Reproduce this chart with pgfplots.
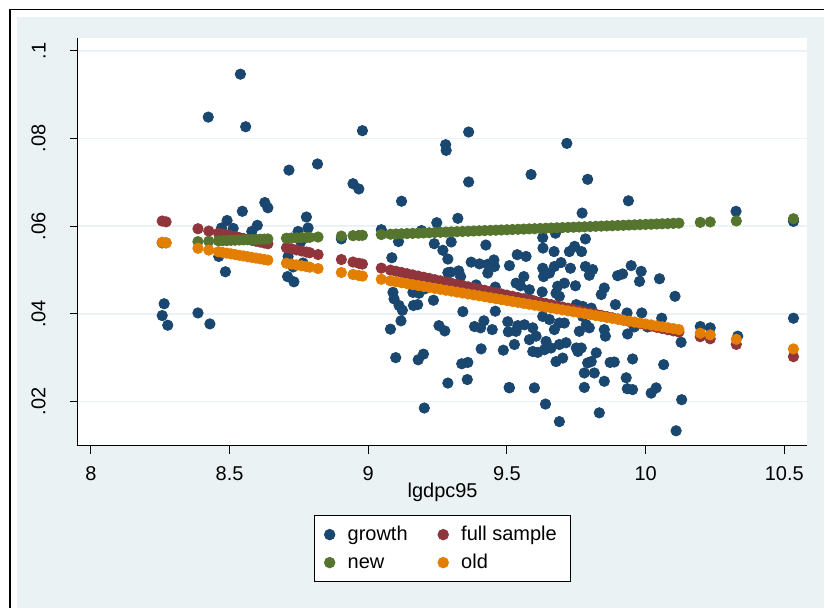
\documentclass[border=0pt]{standalone}
\usepackage{fontspec}
\setmainfont{Liberation Sans}
\usepackage{pgfplots}
\pgfplotsset{compat=1.18}
\usepackage{pgfplotstable}
\definecolor{sbg}{RGB}{234,242,243}
\definecolor{snavy}{RGB}{26,71,111}
\definecolor{smaroon}{RGB}{144,53,59}
\definecolor{sgreen}{RGB}{85,117,47}
\definecolor{sorange}{RGB}{227,126,0}

\pgfplotstableread{
x y
8.264 0.0423
8.257 0.0396
8.277 0.0374
8.386 0.0402
8.429 0.0377
8.423 0.0849
8.539 0.0947
8.558 0.0827
8.461 0.0531
8.485 0.0496
8.471 0.0596
8.491 0.0613
8.513 0.0595
8.546 0.0634
8.580 0.0588
8.600 0.0602
8.627 0.0654
8.638 0.0642
8.714 0.0728
8.817 0.0742
8.777 0.0621
8.783 0.0596
8.747 0.0588
8.757 0.0565
8.711 0.0531
8.729 0.0507
8.765 0.0516
8.709 0.0485
8.732 0.0473
8.903 0.0571
8.945 0.0697
8.966 0.0685
8.979 0.0818
9.047 0.0592
9.120 0.0657
9.085 0.0528
9.109 0.0565
9.192 0.0590
9.247 0.0608
9.238 0.0560
9.269 0.0545
9.287 0.0525
9.287 0.0494
9.161 0.0449
9.183 0.0447
9.204 0.0457
9.235 0.0431
9.089 0.0449
9.093 0.0434
9.111 0.0419
9.123 0.0408
9.118 0.0384
9.163 0.0419
9.178 0.0421
9.080 0.0365
9.255 0.0373
9.276 0.0361
9.099 0.0300
9.180 0.0295
9.199 0.0308
9.287 0.0242
9.202 0.0185
9.279 0.0786
9.281 0.0773
9.362 0.0815
9.362 0.0701
9.323 0.0618
9.299 0.0564
9.424 0.0557
9.371 0.0518
9.401 0.0514
9.431 0.0513
9.453 0.0523
9.455 0.0508
9.431 0.0493
9.297 0.0495
9.326 0.0498
9.333 0.0485
9.509 0.0510
9.537 0.0535
9.569 0.0531
9.561 0.0485
9.533 0.0470
9.549 0.0464
9.389 0.0466
9.458 0.0461
9.581 0.0455
9.585 0.0432
9.341 0.0405
9.458 0.0406
9.383 0.0371
9.405 0.0368
9.417 0.0384
9.447 0.0364
9.503 0.0382
9.505 0.0359
9.539 0.0373
9.563 0.0375
9.533 0.0360
9.407 0.0320
9.487 0.0317
9.527 0.0330
9.337 0.0286
9.359 0.0289
9.357 0.0250
9.508 0.0232
9.587 0.0718
9.716 0.0789
9.791 0.0707
9.771 0.0630
9.629 0.0574
9.630 0.0550
9.675 0.0584
9.783 0.0571
9.670 0.0542
9.725 0.0542
9.744 0.0554
9.769 0.0542
9.695 0.0517
9.629 0.0504
9.632 0.0485
9.653 0.0493
9.671 0.0508
9.729 0.0504
9.783 0.0508
9.809 0.0501
9.797 0.0488
9.707 0.0470
9.683 0.0463
9.677 0.0447
9.689 0.0440
9.747 0.0464
9.627 0.0450
9.851 0.0459
9.840 0.0444
9.899 0.0487
9.891 0.0421
9.750 0.0421
9.773 0.0417
9.804 0.0413
9.629 0.0394
9.653 0.0387
9.671 0.0364
9.689 0.0379
9.707 0.0379
9.773 0.0394
9.786 0.0375
9.761 0.0360
9.797 0.0368
9.851 0.0364
9.855 0.0349
9.593 0.0368
9.605 0.0349
9.581 0.0341
9.641 0.0337
9.659 0.0322
9.689 0.0330
9.713 0.0334
9.593 0.0314
9.611 0.0312
9.635 0.0318
9.750 0.0322
9.768 0.0322
9.756 0.0314
9.822 0.0311
9.791 0.0288
9.804 0.0291
9.677 0.0291
9.701 0.0299
9.872 0.0289
9.779 0.0265
9.815 0.0265
9.851 0.0246
9.599 0.0231
9.779 0.0232
9.639 0.0194
9.689 0.0154
9.833 0.0174
9.509 0.0231
9.938 0.0658
9.948 0.0510
9.917 0.0491
9.984 0.0497
9.978 0.0474
10.050 0.0480
10.106 0.0440
9.933 0.0402
9.986 0.0402
10.058 0.0390
9.959 0.0370
9.935 0.0354
10.007 0.0370
10.128 0.0335
9.887 0.0290
9.953 0.0297
10.065 0.0284
9.930 0.0254
9.934 0.0229
9.953 0.0227
10.020 0.0219
10.038 0.0231
10.130 0.0204
10.110 0.0133
10.197 0.0371
10.233 0.0368
10.326 0.0634
10.332 0.0349
10.533 0.0611
10.533 0.0390
}\growth

\pgfplotstableread{
x fs od nw
8.257 0.06118 0.05634 0.05617
8.271 0.06099 0.05619 0.05620
8.386 0.05942 0.05496 0.05648
8.425 0.05889 0.05454 0.05658
8.460 0.05842 0.05417 0.05666
8.475 0.05821 0.05401 0.05670
8.490 0.05801 0.05385 0.05673
8.505 0.05780 0.05369 0.05677
8.520 0.05760 0.05353 0.05681
8.535 0.05740 0.05336 0.05684
8.550 0.05719 0.05320 0.05688
8.565 0.05699 0.05304 0.05692
8.580 0.05678 0.05288 0.05695
8.595 0.05658 0.05272 0.05699
8.610 0.05638 0.05256 0.05703
8.625 0.05617 0.05240 0.05706
8.638 0.05600 0.05226 0.05709
8.705 0.05508 0.05155 0.05726
8.723 0.05484 0.05135 0.05730
8.741 0.05459 0.05116 0.05734
8.759 0.05435 0.05097 0.05739
8.777 0.05410 0.05078 0.05743
8.789 0.05394 0.05065 0.05746
8.819 0.05353 0.05033 0.05753
8.903 0.05239 0.04943 0.05774
8.945 0.05182 0.04898 0.05784
8.966 0.05153 0.04875 0.05789
8.979 0.05136 0.04861 0.05792
9.047 0.05043 0.04789 0.05809
9.08 0.04998 0.04753 0.05817
9.10 0.04971 0.04732 0.05822
9.12 0.04944 0.04710 0.05827
9.14 0.04916 0.04689 0.05832
9.16 0.04889 0.04667 0.05836
9.18 0.04862 0.04646 0.05841
9.20 0.04835 0.04625 0.05846
9.22 0.04808 0.04603 0.05851
9.24 0.04780 0.04582 0.05856
9.26 0.04753 0.04560 0.05861
9.28 0.04726 0.04539 0.05866
9.30 0.04699 0.04518 0.05870
9.32 0.04672 0.04496 0.05875
9.34 0.04644 0.04475 0.05880
9.36 0.04617 0.04453 0.05885
9.38 0.04590 0.04432 0.05890
9.40 0.04563 0.04411 0.05895
9.42 0.04536 0.04389 0.05900
9.44 0.04508 0.04368 0.05904
9.46 0.04481 0.04346 0.05909
9.48 0.04454 0.04325 0.05914
9.50 0.04427 0.04304 0.05919
9.52 0.04400 0.04282 0.05924
9.54 0.04372 0.04261 0.05929
9.56 0.04345 0.04239 0.05934
9.58 0.04318 0.04218 0.05939
9.60 0.04291 0.04197 0.05943
9.62 0.04264 0.04175 0.05948
9.64 0.04236 0.04154 0.05953
9.66 0.04209 0.04132 0.05958
9.68 0.04182 0.04111 0.05963
9.70 0.04155 0.04090 0.05968
9.72 0.04128 0.04068 0.05973
9.74 0.04100 0.04047 0.05977
9.76 0.04073 0.04025 0.05982
9.78 0.04046 0.04004 0.05987
9.80 0.04019 0.03983 0.05992
9.82 0.03992 0.03961 0.05997
9.84 0.03964 0.03940 0.06002
9.86 0.03937 0.03918 0.06007
9.88 0.03910 0.03897 0.06011
9.90 0.03883 0.03876 0.06016
9.92 0.03856 0.03854 0.06021
9.94 0.03828 0.03833 0.06026
9.96 0.03801 0.03811 0.06031
9.98 0.03774 0.03790 0.06036
10.00 0.03747 0.03769 0.06041
10.02 0.03720 0.03747 0.06045
10.04 0.03692 0.03726 0.06050
10.06 0.03665 0.03704 0.06055
10.08 0.03638 0.03683 0.06060
10.10 0.03611 0.03662 0.06065
10.12 0.03584 0.03640 0.06070
10.197 0.03479 0.03558 0.06088
10.233 0.03430 0.03520 0.06097
10.327 0.03302 0.03419 0.06120
10.533 0.03022 0.03199 0.06170
}\fits

\begin{document}
\begin{tikzpicture}
\fill[white] (0pt,0pt) rectangle (412.5pt,-304.5pt);
\fill[sbg] (8.5pt,-8.5pt) rectangle (412.5pt,-304.5pt);
\draw[black, line width=0.75pt] (5pt,-304.5pt) -- (5pt,-4.65pt) -- (412.5pt,-4.65pt);
\begin{axis}[
  at={(39pt,-223pt)}, anchor=south west,
  scale only axis, width=365pt, height=204pt,
  xmin=7.9532, xmax=10.5829, ymin=0.00992, ymax=0.10296,
  axis x line*=bottom, axis y line*=left,
  axis line style={black, line width=0.5pt},
  axis background/.style={fill=white},
  tick align=outside, major tick length=4pt,
  tick style={black, line width=0.5pt},
  xtick={8,8.5,9,9.5,10,10.5}, xticklabels={8,8.5,9,9.5,10,10.5},
  ytick={0.02,0.04,0.06,0.08,0.1}, yticklabels={.02,.04,.06,.08,.1},
  ymajorgrids, grid style={sbg, line width=0.75pt},
  tick label style={font=\fontsize{10}{12}\selectfont},
  xticklabel style={anchor=north, inner sep=0pt, yshift=-6.5pt},
  yticklabel style={xshift=-12pt, rotate=90, anchor=south, inner sep=0pt},
  xlabel={lgdpc95},
  xlabel style={at={(axis description cs:0.5,0)}, anchor=center, yshift=-23.5pt, font=\fontsize{10}{12}\selectfont},
  legend columns=2,
  legend cell align=left,
  legend style={at={(axis description cs:0.5,0)}, anchor=north, yshift=-34.8pt,
    draw=black, line width=0.5pt, fill=white,
    font=\fontsize{10}{12}\selectfont,
    inner xsep=4.9pt, inner ysep=2.5pt,
    row sep=0pt, column sep=0pt,
    nodes={inner sep=2pt, text height=8pt, text depth=2pt},
    /tikz/every even column/.append style={column sep=13.2pt}},
  legend image code/.code={\path[draw=none, fill=none] (0pt,0pt) -- (8pt,0pt); \draw[mark repeat=2,mark phase=2,#1] plot coordinates {(0pt,0pt) (1pt,0pt) (2pt,0pt)};},
  every axis plot/.append style={only marks, mark=*, mark size=2.6pt, mark options={line width=0.2pt, solid}},
]
\addplot[color=snavy, mark options={fill=snavy, draw=snavy}] table[x=x, y=y] {\growth};
\addlegendentry{growth}
\addplot[color=smaroon, mark options={fill=smaroon, draw=smaroon}] table[x=x, y=fs] {\fits};
\addlegendentry{full sample}
\addplot[color=sgreen, mark options={fill=sgreen, draw=sgreen}] table[x=x, y=nw] {\fits};
\addlegendentry{new}
\addplot[color=sorange, mark options={fill=sorange, draw=sorange}] table[x=x, y=od] {\fits};
\addlegendentry{old}
\end{axis}
\end{tikzpicture}
\end{document}
